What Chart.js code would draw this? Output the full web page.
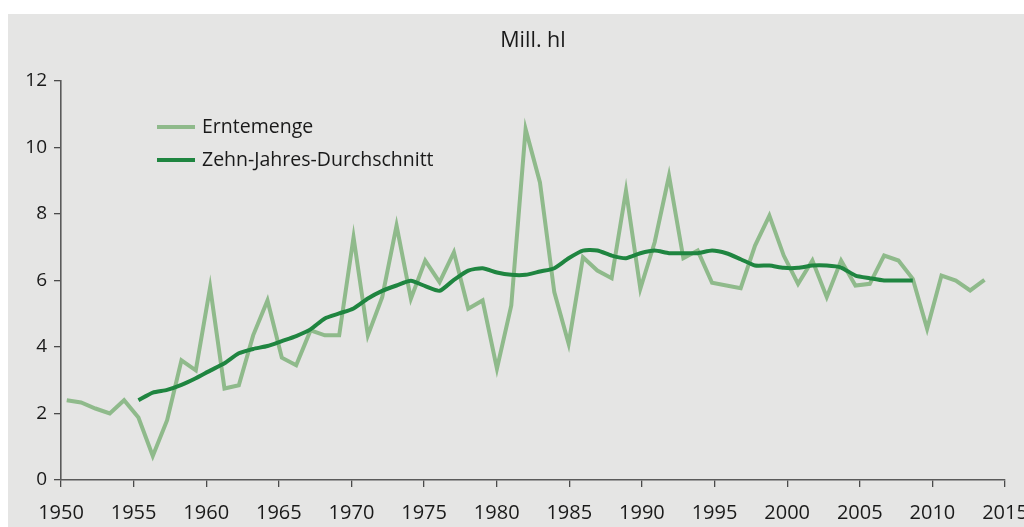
<!DOCTYPE html>
<html>
<head>
<meta charset="utf-8">
<script src="https://cdn.jsdelivr.net/npm/chart.js@4/dist/chart.umd.min.js"></script>
<style>
  html, body { margin: 0; padding: 0; background: #ffffff; overflow: hidden; width: 1024px; height: 527px; }
  #panel { position: absolute; left: 8px; top: 14px; width: 1040px; height: 513px; background: #e5e5e4; }
  #wrap { position: absolute; left: 0; top: 0; width: 1040px; height: 513px; }
  .txt { position: absolute; font-family: "Open Sans", sans-serif; color: #1a1a1a; white-space: nowrap; line-height: 1; }
  #title { left: 0; width: 1050px; text-align: center; top: 14px; font-size: 21.5px; }
  .leg { position: absolute; left: 149px; height: 4px; width: 38px; }
  .legt { left: 194px; font-size: 19.5px; }
</style>
</head>
<body>
<div id="panel">
  <div id="wrap"><canvas id="c" width="1040" height="513"></canvas></div>
  <div class="txt" id="title">Mill. hl</div>
  <div class="leg" style="top:111px;background:#8fba8b"></div>
  <div class="txt legt" style="top:102px">Erntemenge</div>
  <div class="leg" style="top:144px;background:#1f8540"></div>
  <div class="txt legt" style="top:135px">Zehn-Jahres-Durchschnitt</div>
</div>
<script>
const years = [1950,1951,1952,1953,1954,1955,1956,1957,1958,1959,
  1960,1961,1962,1963,1964,1965,1966,1967,1968,1969,
  1970,1971,1972,1973,1974,1975,1976,1977,1978,1979,
  1980,1981,1982,1983,1984,1985,1986,1987,1988,1989,
  1990,1991,1992,1993,1994,1995,1996,1997,1998,1999,
  2000,2001,2002,2003,2004,2005,2006,2007,2008,2009,
  2010,2011,2012,2013,2014];
const erntemenge = [2.4,2.33,2.15,2.0,2.4,1.88,0.72,1.8,3.6,3.3,
  5.8,2.75,2.85,4.35,5.4,3.68,3.45,4.5,4.35,4.35,
  7.3,4.35,5.5,7.65,5.45,6.6,5.95,6.85,5.15,5.4,
  3.35,5.25,10.55,8.95,5.65,4.1,6.7,6.3,6.07,8.7,
  5.75,7.15,9.15,6.67,6.9,5.93,5.85,5.77,7.05,7.95,
  6.75,5.9,6.6,5.5,6.6,5.85,5.9,6.75,6.6,6.05,
  4.55,6.15,6.0,5.7,6.02];
const avgYears = [1955,1956,1957,1958,1959,1960,1961,1962,1963,1964,
  1965,1966,1967,1968,1969,1970,1971,1972,1973,1974,
  1975,1976,1977,1978,1979,1980,1981,1982,1983,1984,
  1985,1986,1987,1988,1989,1990,1991,1992,1993,1994,
  1995,1996,1997,1998,1999,2000,2001,2002,2003,2004,
  2005,2006,2007,2008,2009];
const zehnJahresDurchschnitt = [2.4,2.63,2.71,2.86,3.06,3.29,3.51,3.81,3.94,4.03,
  4.18,4.33,4.53,4.86,5.01,5.16,5.46,5.69,5.85,5.99,
  5.83,5.69,6.02,6.3,6.37,6.24,6.17,6.17,6.27,6.37,
  6.67,6.9,6.9,6.75,6.67,6.82,6.9,6.82,6.82,6.82,
  6.9,6.82,6.64,6.45,6.45,6.38,6.38,6.45,6.45,6.39,
  6.15,6.07,6.0,6.0,6.0];
const xTickMin = 1950, xTickMax = 2015, xTickStep = 5;
const yTickMin = 0, yTickMax = 12, yTickStep = 2;
const seriesNames = ["Erntemenge", "Zehn-Jahres-Durchschnitt"];

new Chart(document.getElementById('c'), {
  type: 'line',
  data: {
    datasets: [
      {
        label: seriesNames[0],
        data: years.map((y, i) => ({ x: y, y: erntemenge[i] })),
        xAxisID: 'xd',
        borderColor: '#8fba8b',
        borderWidth: 4,
        pointRadius: 0,
        tension: 0,
        borderJoinStyle: 'miter',
        order: 2
      },
      {
        label: seriesNames[1],
        data: avgYears.map((y, i) => ({ x: y, y: zehnJahresDurchschnitt[i] })),
        xAxisID: 'xd',
        borderColor: '#1f8540',
        borderWidth: 4,
        pointRadius: 0,
        tension: 0.2,
        borderJoinStyle: 'round',
        order: 1
      }
    ]
  },
  options: {
    responsive: false,
    animation: false,
    events: [],
    layout: { padding: { top: 67, right: 43, bottom: 0, left: 0 } },
    plugins: { legend: { display: false }, title: { display: false }, tooltip: { enabled: false } },
    scales: {
      x: {
        type: 'linear', position: 'bottom',
        min: xTickMin, max: xTickMax,
        ticks: { stepSize: xTickStep, color: '#1a1a1a', font: { family: "'Open Sans', sans-serif", size: 20 },
                 padding: 14, maxRotation: 0, autoSkip: false, callback: v => String(v) },
        grid: { display: true, drawOnChartArea: false, drawTicks: true, tickLength: 7, color: '#4a4a4a', lineWidth: 1.3 },
        border: { display: true, color: '#5a5a5a', width: 1.6 },
        afterFit: s => { s.height = 47; }
      },
      xd: {
        type: 'linear', display: false,
        min: 1949.6, max: 2015.43
      },
      y: {
        type: 'linear', position: 'left',
        min: yTickMin, max: yTickMax,
        ticks: { stepSize: yTickStep, color: '#1a1a1a', font: { family: "'Open Sans', sans-serif", size: 19 }, padding: 7 },
        grid: { display: true, drawOnChartArea: false, drawTicks: true, tickLength: 7, color: '#4a4a4a', lineWidth: 1.3 },
        border: { display: true, color: '#5a5a5a', width: 1.6 },
        afterFit: s => { s.width = 53; }
      }
    }
  }
});
</script>
</body>
</html>
